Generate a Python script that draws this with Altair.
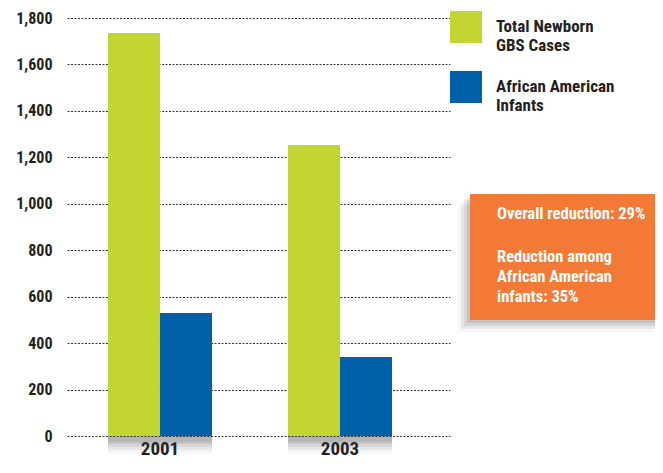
import altair as alt
import pandas as pd

years = ["2001", "2003"]
series = ["Total Newborn GBS Cases", "African American Infants"]
total_cases = [1735, 1253]
african_american = [530, 340]
annotation_1 = ["Overall reduction: 29%"]
annotation_2 = ["Reduction among", "African American", "infants: 35%"]
y_ticks = [0, 200, 400, 600, 800, 1000, 1200, 1400, 1600, 1800]

rows = []
for i, yr in enumerate(years):
    rows.append({"year": yr, "series": series[0], "cases": total_cases[i]})
    rows.append({"year": yr, "series": series[1], "cases": african_american[i]})
df = pd.DataFrame(rows)

FONT = "'Roboto Condensed', 'Liberation Sans Narrow', Roboto, sans-serif"
GREEN = "#C2D530"
BLUE = "#0060A9"
ORANGE = "#F37937"
INK = "#231F20"

x_enc = alt.X("year:N", sort=years,
              scale=alt.Scale(paddingInner=0.4222, paddingOuter=0.275, align=0.414),
              axis=alt.Axis(title=None, labelAngle=0, domain=False, ticks=False,
                            labelFont=FONT, labelFontSize=19, labelFontWeight="bold",
                            labelColor=INK, labelPadding=3, grid=False))
y_enc = alt.Y("cases:Q", scale=alt.Scale(domain=[0, 1800], nice=False),
              axis=alt.Axis(title=None, values=y_ticks, format=",d", domain=False, ticks=False,
                            labelFont=FONT, labelFontSize=16, labelFontWeight="bold",
                            labelColor=INK, labelPadding=15,
                            grid=True, gridColor="#333333", gridDash=[2, 1.5], gridWidth=1))
xoff = alt.XOffset("series:N", sort=series, scale=alt.Scale(paddingInner=0, paddingOuter=0))

base = alt.Chart(df)

shadows = []
for off, op in [(3, 0.11), (5, 0.11), (8, 0.09), (11, 0.07), (14, 0.05)]:
    shadows.append(
        base.mark_bar(color="#333333", opacity=op, xOffset=off, yOffset=off + 3).encode(
            x=x_enc, y=y_enc, xOffset=xoff)
    )

bars = base.mark_bar().encode(
    x=x_enc, y=y_enc, xOffset=xoff,
    color=alt.Color("series:N", sort=series,
                    scale=alt.Scale(domain=series, range=[GREEN, BLUE]),
                    legend=alt.Legend(title=None, orient="none", legendX=383, legendY=-7,
                                      symbolType="square", symbolSize=1024, symbolStrokeWidth=0,
                                      symbolOpacity=1,
                                      labelFont=FONT, labelFontSize=17, labelFontWeight="bold",
                                      labelColor=INK, labelOffset=14, rowPadding=17,
                                      labelLimit=200,
                                      labelExpr="datum.label == 'Total Newborn GBS Cases' ? ['Total Newborn', 'GBS Cases'] : ['African American', 'Infants']")),
)

ann_df = pd.DataFrame({"k": [0]})
ann = alt.Chart(ann_df)
box_shadow = []
for off, op in [(3, 0.12), (6, 0.10), (9, 0.07), (12, 0.04)]:
    box_shadow.append(ann.mark_rect(color="#333333", opacity=op).encode(
        x=alt.value(403 - off), x2=alt.value(588), y=alt.value(176 + off), y2=alt.value(302 + off)))
box = ann.mark_rect(color=ORANGE).encode(
    x=alt.value(403), x2=alt.value(588), y=alt.value(176), y2=alt.value(302))
t1 = ann.mark_text(text=annotation_1, font=FONT, fontSize=16.5, fontWeight="bold", color="white",
                   align="left", baseline="top").encode(x=alt.value(430), y=alt.value(188))
t2 = ann.mark_text(text=annotation_2, font=FONT, fontSize=16.5, fontWeight="bold", color="white",
                   align="left", baseline="top", lineHeight=20).encode(x=alt.value(430), y=alt.value(231))

chart = alt.layer(*shadows, bars, *box_shadow, box, t1, t2).properties(
    width=383, height=418,
    autosize=alt.AutoSizeParams(type="none"),
    padding={"left": 59, "top": 10, "right": 205, "bottom": 24},
    background="white",
).configure_view(stroke=None)

chart.save("out.html", embed_options={"renderer": "svg", "actions": False})
